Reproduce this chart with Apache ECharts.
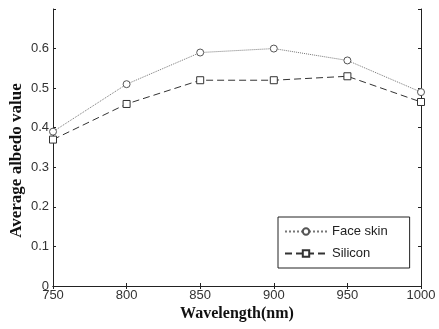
<!DOCTYPE html>
<html><head><meta charset="utf-8">
<script src="https://cdn.jsdelivr.net/npm/echarts@6/dist/echarts.min.js"></script>
<style>html,body{margin:0;padding:0;background:#fff}#c{width:439px;height:329px}</style>
</head><body><div id="c"></div>
<script>
var wavelengths = [750, 800, 850, 900, 950, 1000];
var faceSkin = [0.39, 0.51, 0.59, 0.60, 0.57, 0.49];
var silicon = [0.37, 0.46, 0.52, 0.52, 0.53, 0.465];
var yTicks = [0, 0.1, 0.2, 0.3, 0.4, 0.5, 0.6];

var chart = echarts.init(document.getElementById('c'));
function pairs(xs, ys){ return xs.map(function(x,i){return [x, ys[i]];}); }
var tickFont = {fontFamily: 'Liberation Sans', fontSize: 13, color: '#333'};
chart.setOption({
  animation: false,
  backgroundColor: '#fff',
  grid: {left: 53, right: 18, top: 9, bottom: 43, containLabel: false, outerBoundsMode: 'none'},
  legend: {
    left: 278, top: 217, width: 128, orient: 'vertical',
    itemWidth: 42, itemHeight: 8, itemGap: 9,
    padding: [8, 22, 8, 6],
    borderColor: '#222', borderWidth: 1, backgroundColor: '#fff',
    textStyle: {fontFamily: 'Liberation Sans', fontSize: 13, color: '#222'},
    data: ['Face skin', 'Silicon']
  },
  xAxis: [{
    type: 'value', min: 750, max: 1000, interval: 50,
    name: 'Wavelength(nm)', nameLocation: 'middle', nameGap: 20, nameMoveOverlap: false,
    nameTextStyle: {fontFamily: 'Liberation Serif', fontWeight: 'bold', fontSize: 16, color: '#111'},
    axisLine: {lineStyle: {color: '#222', width: 1}},
    axisTick: {inside: true, length: 3, lineStyle: {color: '#222'}},
    axisLabel: Object.assign({margin: 3, formatter: function(v){ return String(v); }}, tickFont),
    splitLine: {show: false}
  }, {
    type: 'value', min: 750, max: 1000, interval: 50, position: 'top',
    axisLine: {lineStyle: {color: '#222', width: 1}},
    axisTick: {inside: true, length: 3, lineStyle: {color: '#222'}},
    axisLabel: {show: false}, splitLine: {show: false}
  }],
  yAxis: [{
    type: 'value', min: 0, max: 0.7, interval: 0.1,
    name: 'Average albedo value', nameLocation: 'middle', nameGap: 28, nameMoveOverlap: false,
    nameTextStyle: {fontFamily: 'Liberation Serif', fontWeight: 'bold', fontSize: 17, color: '#111', padding: [0, 0, 0, -26]},
    axisLine: {show: true, lineStyle: {color: '#222', width: 1}},
    axisTick: {show: true, inside: true, length: 3, lineStyle: {color: '#222'}},
    axisLabel: Object.assign({margin: 4, formatter: function(v){
      var r = Math.round(v*10)/10;
      return yTicks.indexOf(r) >= 0 ? (r === 0 ? '0' : r.toFixed(1)) : '';
    }}, tickFont),
    splitLine: {show: false}
  }, {
    type: 'value', min: 0, max: 0.7, interval: 0.1, position: 'right',
    axisLine: {show: true, lineStyle: {color: '#222', width: 1}},
    axisTick: {show: true, inside: true, length: 3, lineStyle: {color: '#222'}},
    axisLabel: {show: false}, splitLine: {show: false}
  }],
  series: [{
    name: 'Face skin', type: 'line', data: pairs(wavelengths, faceSkin),
    symbol: 'circle', symbolSize: 7,
    lineStyle: {color: '#777', width: 1, type: 'dotted'},
    itemStyle: {color: '#fff', borderColor: '#555', borderWidth: 1}
  }, {
    name: 'Silicon', type: 'line', data: pairs(wavelengths, silicon),
    symbol: 'rect', symbolSize: 7,
    lineStyle: {color: '#333', width: 1, type: [7, 4]},
    itemStyle: {color: '#fff', borderColor: '#333', borderWidth: 1}
  }]
});
</script></body></html>
